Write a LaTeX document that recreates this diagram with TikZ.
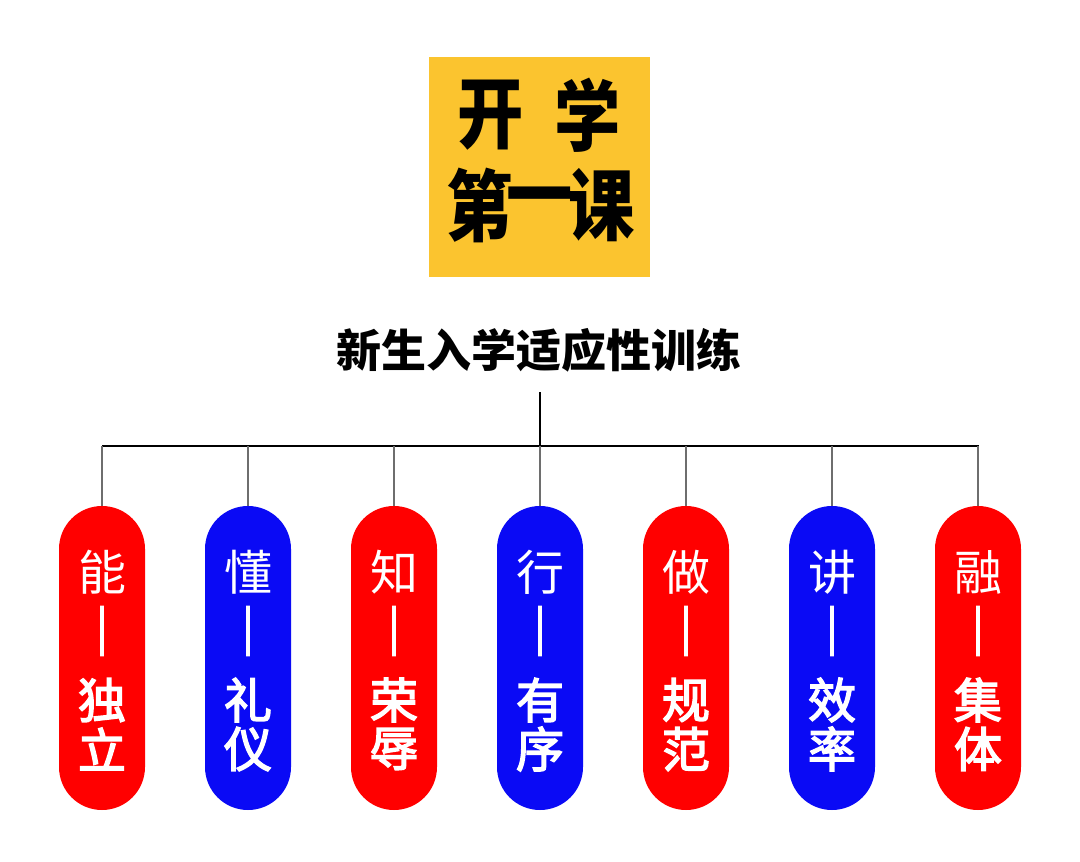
\documentclass[tikz,border=0pt]{standalone}
\usepackage{fontspec}
\newfontfamily\cjk{Noto Sans CJK SC}
\newfontfamily\cjkmed{Noto Sans CJK SC}[FakeBold=3]
\newfontfamily\cjkbar{Noto Sans CJK SC}[FakeBold=2]
\definecolor{titlegold}{HTML}{FBC42F}
\definecolor{pillred}{HTML}{FF0000}
\definecolor{pillblue}{HTML}{0A0AF5}
\definecolor{dropgray}{HTML}{6E6E6E}
\begin{document}
\begin{tikzpicture}[x=1pt,y=-1pt,
  pill/.style={rounded corners=43pt,minimum width=86pt,minimum height=304pt,inner sep=0pt,draw=none},
  redpill/.style={pill,fill=pillred},
  bluepill/.style={pill,fill=pillblue},
  toptxt/.style={text=white,font=\cjk\fontsize{48}{48}\selectfont,inner sep=0pt},
  bartxt/.style={text=white,font=\cjkbar\fontsize{58}{58}\selectfont,inner sep=0pt},
  bottxt/.style={text=white,font=\cjkmed\fontsize{48}{48}\selectfont,inner sep=0pt},
  titletxt/.style={text=black,font=\cjk\bfseries\fontsize{78}{78}\selectfont,inner sep=0pt,xscale=0.85},
  drop/.style={draw=dropgray,line width=1.5pt},
  mainline/.style={draw=black,line width=2.6pt}]
\useasboundingbox (0,0) rectangle (1080,862);
\fill[white] (0,0) rectangle (1080,862);
% title box
\node[fill=titlegold,minimum width=221pt,minimum height=220pt,inner sep=0pt] (title) at (539.5,167) {};
\node[titletxt] (t1) at (491,115) {开};
\node[titletxt] (t2) at (588,115) {学};
\node[titletxt] (t3) at (480,205) {第};
\node[titletxt] (t4) at (540,205) {一};
\node[titletxt] (t5) at (602,205) {课};
% subtitle
\node[font=\cjk\bfseries\fontsize{45}{45}\selectfont,inner sep=0pt] (sub) at (539,350) {新生入学适应性训练};
% connectors
\coordinate (top) at (540,392);
\coordinate (hub) at (540,446);
\coordinate (hl) at (102,446);
\coordinate (hr) at (979,446);
\draw[draw=black,line width=2.4pt] (top) -- (hub);
\draw[mainline] (hl) -- (hr);
% pills
\foreach \i/\x/\sty/\a/\b/\c in {1/102/redpill/能/独/立, 2/248/bluepill/懂/礼/仪, 3/394/redpill/知/荣/辱, 4/540/bluepill/行/有/序, 5/686/redpill/做/规/范, 6/832/bluepill/讲/效/率, 7/978/redpill/融/集/体}{
  \node[\sty] (p\i) at (\x,658) {};
  \coordinate (d\i) at (\x,446);
  \draw[drop] (d\i) -- (p\i.north);
  \node[toptxt] (a\i) at (\x,572) {\a};
  \node[bartxt] (m\i) at (\x,631) {︱};
  \node[bottxt] (b\i) at (\x,700) {\b};
  \node[bottxt] (c\i) at (\x,749) {\c};
}
\end{tikzpicture}
\end{document}
